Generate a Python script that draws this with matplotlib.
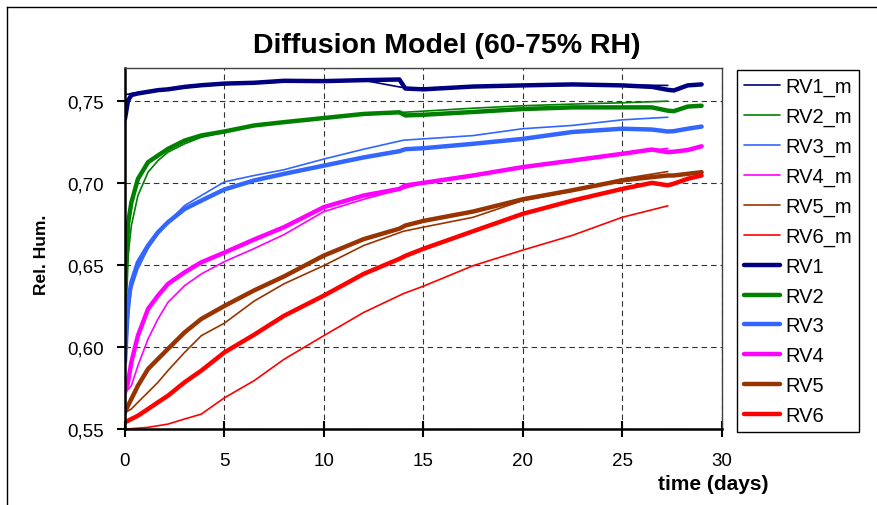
import matplotlib
matplotlib.use("Agg")
import matplotlib.pyplot as plt
from matplotlib.lines import Line2D

plt.rcParams['font.family'] = ['Liberation Sans', 'DejaVu Sans']

# ---------------- data ----------------
# time axis of the thin "_m" series (days)
t_m = [0, 0.15, 0.32, 0.65, 1.16, 1.66, 2.16, 3.0, 3.84, 5, 6.5, 8, 10, 12, 14, 15,
       17.5, 20, 22.5, 25, 27.3]
# time axis of the thick series (days)
t_rv = [0, 0.15, 0.32, 0.65, 1.16, 1.66, 2.16, 3.0, 3.84, 5, 6.5, 8, 10, 12, 13.8, 14.1,
        15, 17.5, 20, 22.5, 25, 26.5, 27.3, 27.6, 28.3, 29]

RV1_m = [0.754, 0.754, 0.7545, 0.755, 0.7558, 0.7565, 0.757, 0.758, 0.759, 0.760, 0.7608,
         0.7615, 0.762, 0.7625, 0.758, 0.7578, 0.7585, 0.759, 0.7595, 0.7595, 0.7594]
RV2_m = [0.625, 0.655, 0.674, 0.6923, 0.7065, 0.7136, 0.7187, 0.7238, 0.7278, 0.731, 0.7345,
         0.7368, 0.7393, 0.7415, 0.743, 0.7437, 0.7455, 0.747, 0.748, 0.7488, 0.7498]
RV3_m = [0.5907, 0.615, 0.6354, 0.6476, 0.660, 0.669, 0.676, 0.6862, 0.6923, 0.7006, 0.7045,
         0.708, 0.7145, 0.7205, 0.726, 0.7268, 0.7288, 0.733, 0.735, 0.7384, 0.740]
RV4_m = [0.5724, 0.574, 0.5764, 0.5886, 0.6049, 0.6171, 0.6272, 0.6374, 0.6445, 0.652, 0.660,
         0.6685, 0.6825, 0.690, 0.6965, 0.700, 0.705, 0.7096, 0.714, 0.7177, 0.721]
RV5_m = [0.5602, 0.561, 0.5622, 0.5663, 0.5724, 0.5785, 0.5856, 0.5967, 0.6069, 0.6145, 0.628,
         0.6385, 0.6496, 0.6618, 0.6705, 0.673, 0.679, 0.6892, 0.695, 0.7024, 0.7069]
RV6_m = [0.55, 0.55, 0.5502, 0.5505, 0.551, 0.552, 0.553, 0.5561, 0.5591, 0.569, 0.5795,
         0.5925, 0.6069, 0.621, 0.6325, 0.637, 0.6495, 0.659, 0.668, 0.679, 0.686]

RV1 = [0.739, 0.750, 0.7535, 0.7545, 0.7555, 0.7565, 0.757, 0.7585, 0.7595, 0.7605, 0.761,
       0.7622, 0.762, 0.7626, 0.763, 0.7575, 0.757, 0.7587, 0.7594, 0.760, 0.7594, 0.7585,
       0.7567, 0.7563, 0.7594, 0.760]
RV2 = [0.625, 0.675, 0.688, 0.7024, 0.7126, 0.7167, 0.7207, 0.7258, 0.7289, 0.7313, 0.735,
       0.737, 0.7395, 0.742, 0.743, 0.7411, 0.7415, 0.7432, 0.745, 0.746, 0.746, 0.746,
       0.744, 0.7437, 0.7465, 0.747]
RV3 = [0.5907, 0.6272, 0.6394, 0.6516, 0.6618, 0.6699, 0.676, 0.6841, 0.6892, 0.696, 0.7015,
       0.7055, 0.7105, 0.7155, 0.7193, 0.7205, 0.7211, 0.7238, 0.7268, 0.731, 0.733, 0.7325,
       0.7313, 0.7315, 0.733, 0.7343]
RV4 = [0.5724, 0.5785, 0.5907, 0.6069, 0.6232, 0.6313, 0.6384, 0.6455, 0.6516, 0.6575, 0.6655,
       0.673, 0.6852, 0.6923, 0.6963, 0.6984, 0.700, 0.7045, 0.7096, 0.7136, 0.7177, 0.7203,
       0.7187, 0.719, 0.720, 0.7223]
RV5 = [0.5602, 0.5642, 0.5683, 0.5764, 0.5866, 0.5927, 0.5988, 0.6089, 0.6171, 0.625, 0.6345,
       0.643, 0.6557, 0.6657, 0.6721, 0.674, 0.6768, 0.6825, 0.690, 0.6955, 0.7015, 0.7035,
       0.7045, 0.7045, 0.7055, 0.7065]
RV6 = [0.5541, 0.555, 0.5561, 0.5581, 0.5622, 0.5663, 0.5703, 0.5785, 0.5856, 0.5967, 0.6075,
       0.619, 0.6313, 0.6445, 0.6537, 0.6555, 0.6598, 0.6705, 0.6811, 0.6892, 0.6963, 0.700,
       0.6985, 0.6995, 0.7025, 0.7045]

names_m = ["RV1_m", "RV2_m", "RV3_m", "RV4_m", "RV5_m", "RV6_m"]
names_rv = ["RV1", "RV2", "RV3", "RV4", "RV5", "RV6"]
colors = ["#000080", "#008000", "#3366FF", "#FF00FF", "#993300", "#FF0000"]

x_ticks = [0, 5, 10, 15, 20, 25, 30]
y_ticks = [0.55, 0.60, 0.65, 0.70, 0.75]
y_tick_labels = ["0,55", "0,60", "0,65", "0,70", "0,75"]

title = "Diffusion Model (60-75% RH)"
xlabel = "time (days)"
ylabel = "Rel. Hum."

# ---------------- figure ----------------
W, H = 877, 506
fig = plt.figure(figsize=(W / 100, H / 100), dpi=100)
ax = fig.add_axes([125 / W, 1 - 430 / H, (721.5 - 125) / W, (430 - 69) / H])

handles = []
for name, y, c in zip(names_m, [RV1_m, RV2_m, RV3_m, RV4_m, RV5_m, RV6_m], colors):
    h, = ax.plot(t_m, y, color=c, lw=1.2, label=name, solid_capstyle='round')
    handles.append(h)
for name, y, c in zip(names_rv, [RV1, RV2, RV3, RV4, RV5, RV6], colors):
    h, = ax.plot(t_rv, y, color=c, lw=3.2, label=name, solid_capstyle='round',
                 solid_joinstyle='round')
    handles.append(h)

ax.set_xlim(0, 30)
ax.set_ylim(0.55, 0.77)
ax.set_xticks(x_ticks)
ax.set_xticklabels([str(v) for v in x_ticks])
ax.set_yticks(y_ticks)
ax.set_yticklabels(y_tick_labels)
ax.tick_params(axis='x', direction='inout', length=11, width=1.5, pad=11, labelsize=13.5)
ax.tick_params(axis='y', direction='out', length=6, width=1.5, pad=9, labelsize=13.5)

ax.grid(True, color='#333333', lw=0.8, linestyle=(0, (5, 3.5)))
ax.set_axisbelow(True)

for s in ['left', 'bottom']:
    ax.spines[s].set_linewidth(1.8)
    ax.spines[s].set_color('black')
for s in ['top', 'right']:
    ax.spines[s].set_linewidth(1.0)
    ax.spines[s].set_color('#404040')

fig.text(447 / W, 1 - 53 / H, title, ha='center', va='baseline',
         fontsize=20.5, fontweight='bold')
fig.text(713 / W, 1 - 490 / H, xlabel, ha='center', va='baseline',
         fontsize=15, fontweight='bold')
fig.text(42 / W, 1 - 255 / H, ylabel, ha='center', va='center', rotation=90,
         fontsize=12.5, fontweight='bold')

leg = fig.legend(handles=handles, loc='upper left',
                 bbox_to_anchor=(737 / W, 1 - 70.7 / H),
                 bbox_transform=fig.transFigure, borderaxespad=0,
                 fontsize=14.5, frameon=True, fancybox=False, framealpha=1,
                 edgecolor='black', borderpad=0.35, labelspacing=0.535,
                 handlelength=1.8, handletextpad=0.25)
leg.get_frame().set_linewidth(1.0)

# outer figure frame (left and top edges visible)
fig.add_artist(Line2D([6.5 / W, 6.5 / W], [0, 1 - 8 / H], color='black', lw=1,
                      transform=fig.transFigure))
fig.add_artist(Line2D([6.5 / W, 1], [1 - 8 / H, 1 - 8 / H], color='black', lw=1,
                      transform=fig.transFigure))

fig.savefig("out.png", dpi=100)
